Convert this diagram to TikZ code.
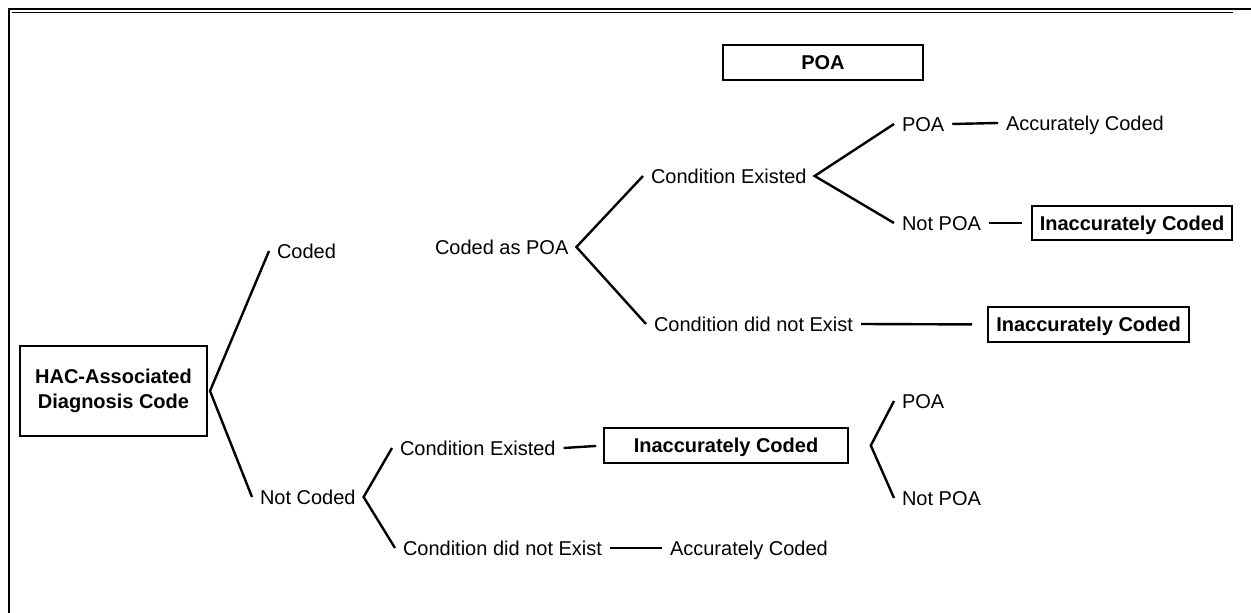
\documentclass[tikz,border=0pt]{standalone}
\usepackage{fontspec}
\setmainfont{Liberation Sans}
\usetikzlibrary{positioning}

\tikzset{
  lbl/.style={right, inner sep=0pt, outer sep=4pt, text height=7.2pt, text depth=0pt,
              font=\fontsize{10}{12}\selectfont},
  box/.style={draw, line width=0.8pt, font=\fontsize{10}{12.5}\selectfont\bfseries},
  codebox/.style={box, inner sep=0pt, text height=7.2pt, text depth=0pt},
  branch/.style={line width=1.2pt},
}

\begin{document}
\begin{tikzpicture}[x=0.5pt, y=-0.5pt]
  \useasboundingbox (0,0) rectangle (1251,613);
  % frame: double rule on top, single rule on the left
  \draw[line width=1pt] (8.5,613) -- (8.5,9.5) -- (1251,9.5);
  \draw[line width=0.5pt] (12,12.5) -- (1233,12.5);

  % heading and root
  \node[codebox, minimum width=100pt, minimum height=17.5pt] (poahead) at (823,62.5) {POA};
  \node[box, align=center, minimum width=93.5pt, minimum height=45pt, outer sep=1.5pt] (hac)
    at (113.5,391) {HAC-Associated\\Diagnosis Code};

  % labels (at = text start minus outer sep)
  \node[lbl] (coded)    at (269,251) {Coded};
  \node[lbl] (notcoded) at (252,497) {Not Coded};
  \node[lbl] (codedpoa) at (427,247) {Coded as POA};
  \node[lbl] (existA)   at (643,176) {Condition Existed};
  \node[lbl] (absentA)  at (646,324) {Condition did not Exist};
  \node[lbl] (poaA)     at (894,124) {POA};
  \node[lbl] (notpoaA)  at (894,223) {Not POA};
  \node[lbl] (accA)     at (998,123) {Accurately Coded};
  \node[lbl] (existB)   at (392,448) {Condition Existed};
  \node[lbl] (absentB)  at (395,548) {Condition did not Exist};
  \node[lbl] (accB)     at (662,548) {Accurately Coded};
  \node[lbl] (poaB)     at (894,401) {POA};
  \node[lbl] (notpoaB)  at (894,498) {Not POA};

  % outcome boxes
  \node[codebox, minimum width=100pt, minimum height=17pt] (wrongA) at (1132,223) {Inaccurately Coded};
  \node[codebox, minimum width=100.5pt, minimum height=17.5pt] (wrongB) at (1088.5,324.5) {Inaccurately Coded};
  \node[codebox, minimum width=122pt, minimum height=17.5pt] (wrongC) at (726,445.5) {Inaccurately Coded};
  \coordinate[right=11pt of wrongC] (fork);

  % forks
  \draw[branch] (coded.west) -- (hac.east) -- (notcoded.west);
  \draw[branch] (existA.west) -- (codedpoa.east) -- (absentA.west);
  \draw[branch] (poaA.west) -- (existA.east) -- (notpoaA.west);
  \draw[branch] (existB.west) -- (notcoded.east) -- (absentB.west);
  \draw[branch] (poaB.west) -- (fork) -- (notpoaB.west);

  % short rules to outcomes
  \draw[branch, shorten >=4.5pt] (notpoaA.east) -- (wrongA.west);
  \draw[branch, shorten >=7.5pt] (absentA.east) -- (wrongB.west);
  \draw[branch, shorten >=3.5pt] (existB.east) -- (wrongC.west);
  \draw[branch] (poaA.east) -- (accA.west);
  \draw[branch] (absentB.east) -- (accB.west);
\end{tikzpicture}
\end{document}
